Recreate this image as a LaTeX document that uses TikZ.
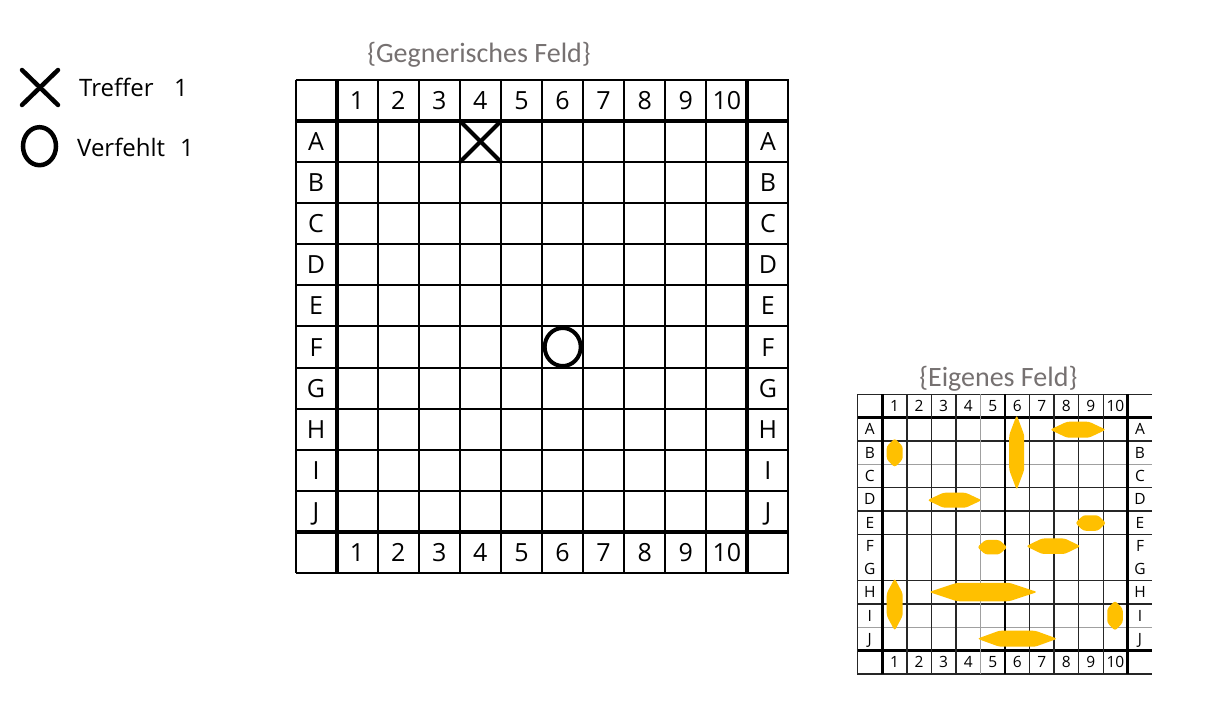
\documentclass[tikz,border=0pt]{standalone}
\usepackage{fontspec}
\setmainfont{Open Sans}
\newfontfamily\titlefont{Carlito}
\definecolor{titlegray}{RGB}{118,113,113}
\definecolor{shipgold}{RGB}{255,192,0}
\definecolor{lightline}{RGB}{160,160,160}
\newcommand\hship[5]{\fill[shipgold,rounded corners=2.5pt] (#1,#3) -- ({#1+#5},{#3-#4/2}) -- ({#2-#5},{#3-#4/2}) -- (#2,#3) -- ({#2-#5},{#3+#4/2}) -- ({#1+#5},{#3+#4/2}) -- cycle;}
\newcommand\vship[5]{\fill[shipgold,rounded corners=2.5pt] (#1,#2) -- ({#1+#4/2},{#2+#5}) -- ({#1+#4/2},{#3-#5}) -- (#1,#3) -- ({#1-#4/2},{#3-#5}) -- ({#1-#4/2},{#2+#5}) -- cycle;}
\begin{document}
\begin{tikzpicture}[x=1pt,y=-1pt,
  bigline/.style={line width=2pt,black},
  bigthick/.style={line width=4pt,black},
  smallline/.style={line width=1.3pt,black!85},
  smallgray/.style={line width=1.1pt,lightline},
  smallthick/.style={line width=2.6pt,black},
  biglbl/.style={font=\fontsize{25}{25}\selectfont,inner sep=0pt,text height=18pt,text depth=0pt,anchor=center},
  smalllbl/.style={font=\fontsize{15.5}{15.5}\selectfont,inner sep=0pt,text height=11pt,text depth=0pt,anchor=center},
  legendtxt/.style={font=\fontsize{24}{24}\selectfont,inner sep=0pt,anchor=base west},
  titletxt/.style={font=\titlefont\fontsize{28}{28}\selectfont,text=titlegray,inner sep=0pt,anchor=base},
  markline/.style={line width=4.5pt,black}
]
\useasboundingbox[fill=white] (0,0) rectangle (1217,704);

% ---------- legend ----------
\draw[markline,line cap=round] (22,70) -- (58,105);
\draw[markline,line cap=round] (58,70) -- (22,105);
\draw[markline] (39.5,146.2) ellipse [x radius=16.5, y radius=19];
\node[legendtxt] (treffer) at (79,96.7) {Treffer};
\node[legendtxt] (treffern) at (174,96.7) {1};
\node[legendtxt] (verfehlt) at (77,156) {Verfehlt};
\node[legendtxt] (verfehltn) at (180,156) {1};

% ---------- big grid ----------
\node[titletxt] (titleA) at (479,62) {\{Gegnerisches Feld\}};
\foreach \k in {0,...,12} {
  \draw[bigline] ({295.5+\k*41.08},80) -- ({295.5+\k*41.08},573);
  \draw[bigline] (295.5,{80+\k*41.08}) -- (788.5,{80+\k*41.08});
}
\foreach \k in {1,11} {
  \draw[bigthick] ({295.5+\k*41.08},80) -- ({295.5+\k*41.08},573);
  \draw[bigthick] (295.5,{80+\k*41.08}) -- (788.5,{80+\k*41.08});
}
\foreach \i in {1,...,10} {
  \node[biglbl] (bt\i) at ({295.5+(\i+0.5)*41.08},{80+0.5*41.08}) {\i};
  \node[biglbl] (bb\i) at ({295.5+(\i+0.5)*41.08},{80+11.5*41.08}) {\i};
}
\foreach \L [count=\i] in {A,B,C,D,E,F,G,H,I,J} {
  \node[biglbl] (bl\i) at ({295.5+0.5*41.08},{80+(\i+0.5)*41.08}) {\L};
  \node[biglbl] (br\i) at ({295.5+11.5*41.08},{80+(\i+0.5)*41.08}) {\L};
}
% hit and miss
\draw[line width=4pt] (460,121) -- (501,162);
\draw[line width=4pt] (501,121) -- (460,162);
\draw[line width=4pt] (562.7,347) ellipse [x radius=18, y radius=19];

% ---------- small grid ----------
\node[titletxt] (titleB) at (998.3,386) {\{Eigenes Feld\}};
% horizontal lines
\foreach \k in {0,1,2,4,5,6,8,9,11,12} {
  \draw[smallline] (857.3,{394.3+\k*23.31}) -- (1152.2,{394.3+\k*23.31});
}
\foreach \k in {3,10} {
  \draw[smallgray] (857.3,{394.3+\k*23.31}) -- (1152.2,{394.3+\k*23.31});
}
\foreach \k in {1,11} {
  \draw[smallthick] (857.3,{394.3+\k*23.31}) -- (1152.2,{394.3+\k*23.31});
}
% vertical lines
\draw[smallline] (857.3,394.3) -- (857.3,674);
\foreach \k in {1,...,9} {
  \draw[smallline] ({882.3+\k*24.54},394.3) -- ({882.3+\k*24.54},674);
}
\draw[smallgray] ({882.3+4*24.54},394.3) -- ({882.3+4*24.54},674);
\draw[line width=1.8pt] ({882.3+5*24.54},394.3) -- ({882.3+5*24.54},674);
\draw[smallthick] (882.3,394.3) -- (882.3,674);
\draw[smallthick] (1127.7,394.3) -- (1127.7,674);
% labels
\foreach \i in {1,...,10} {
  \node[smalllbl] (st\i) at ({882.3+(\i-0.5)*24.54},{394.3+0.5*23.31}) {\i};
  \node[smalllbl] (sb\i) at ({882.3+(\i-0.5)*24.54},{394.3+11.5*23.31}) {\i};
}
\foreach \L [count=\i] in {A,B,C,D,E,F,G,H,I,J} {
  \node[smalllbl] (sl\i) at (869.8,{394.3+(\i+0.5)*23.31}) {\L};
  \node[smalllbl] (sr\i) at (1140,{394.3+(\i+0.5)*23.31}) {\L};
}
% ships
\hship{1050}{1106}{429.7}{16}{17}
\hship{927.3}{981.7}{500.2}{15}{16}
\hship{1075.3}{1106}{523}{15.5}{8}
\hship{977.3}{1007.3}{547.2}{14.5}{8}
\hship{1026}{1080.7}{546.2}{15.5}{16}
\hship{929}{1037.3}{592}{18.5}{28}
\hship{977.3}{1057.3}{638.7}{16}{22}
\vship{894.7}{438.3}{467.3}{16}{8}
\vship{1016.7}{415}{490}{15}{20}
\vship{894.7}{578.3}{630.7}{16}{15}
\vship{1115}{600.7}{630.7}{15.5}{8}
\end{tikzpicture}
\end{document}
